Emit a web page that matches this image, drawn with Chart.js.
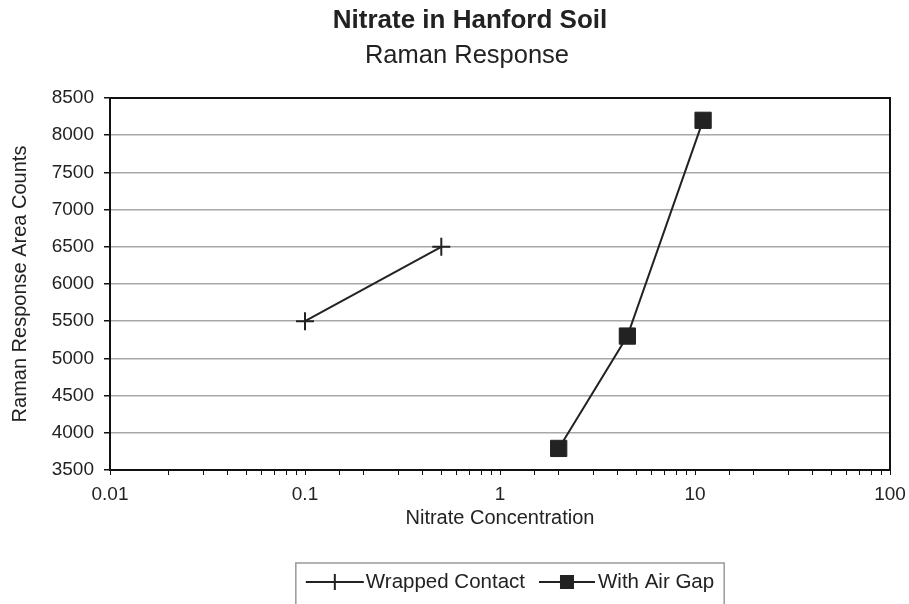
<!DOCTYPE html>
<html>
<head>
<meta charset="utf-8">
<script src="https://cdn.jsdelivr.net/npm/chart.js@4"></script>
<style>
  body { margin: 0; background: #fff; }
</style>
</head>
<body>
<canvas id="nitrateChart" width="909" height="604"></canvas>
<script>
// Datos
const wrappedConc = [0.1, 0.5];
const wrappedCounts = [5500, 6500];
const airGapConc = [2, 4.5, 11];
const airGapCounts = [3790, 5300, 8200];
const seriesNames = ['Wrapped Contact', 'With Air Gap'];
const xTickValues = [0.01, 0.1, 1, 10, 100];
const yMin = 3500, yMax = 8500, yStep = 500;

const FONT = '"Liberation Sans", Arial, sans-serif';
const INK = '#222';

function toPoints(xs, ys) {
    return xs.map((x, i) => ({ x: x, y: ys[i] }));
}

// Títulos, marco del área y leyenda
const decorPlugin = {
    id: 'decor',
    afterDraw(chart) {
        const ctx = chart.ctx;
        const area = chart.chartArea;
        ctx.save();

        // marco negro
        ctx.strokeStyle = '#111';
        ctx.lineWidth = 2;
        ctx.strokeRect(area.left, area.top, area.right - area.left, area.bottom - area.top);

        // títulos
        ctx.fillStyle = INK;
        ctx.textAlign = 'center';
        ctx.textBaseline = 'alphabetic';
        ctx.font = 'bold 26px ' + FONT;
        ctx.fillText('Nitrate in Hanford Soil', 470, 28);
        ctx.font = '25.5px ' + FONT;
        ctx.fillText('Raman Response', 467, 63);

        // leyenda
        ctx.font = '20.5px ' + FONT;
        ctx.textAlign = 'left';
        ctx.textBaseline = 'middle';
        const y = 582;
        const w1 = ctx.measureText(seriesNames[0]).width;
        const w2 = ctx.measureText(seriesNames[1]).width;
        const total = 10 + 58 + 2 + w1 + 14 + 56 + 3 + w2 + 10;
        let x = 510 - total / 2;
        ctx.strokeStyle = '#999';
        ctx.lineWidth = 1.5;
        ctx.strokeRect(x, 563, total, 60);

        ctx.strokeStyle = INK;
        ctx.lineWidth = 2;
        x += 10;
        ctx.beginPath();
        ctx.moveTo(x, y); ctx.lineTo(x + 58, y);
        ctx.moveTo(x + 29, y - 8); ctx.lineTo(x + 29, y + 8);
        ctx.stroke();
        x += 60;
        ctx.fillText(seriesNames[0], x, y);
        x += w1 + 14;
        ctx.beginPath();
        ctx.moveTo(x, y); ctx.lineTo(x + 56, y);
        ctx.stroke();
        ctx.fillRect(x + 28 - 7, y - 7, 14, 14);
        x += 59;
        ctx.fillText(seriesNames[1], x, y);

        ctx.restore();
    }
};

const ctx = document.getElementById('nitrateChart').getContext('2d');
const chart = new Chart(ctx, {
    type: 'line',
    data: {
        datasets: [
            {
                label: seriesNames[0],
                data: toPoints(wrappedConc, wrappedCounts),
                borderColor: INK,
                backgroundColor: INK,
                borderWidth: 2,
                pointStyle: 'cross',
                pointRadius: 9,
                pointBorderWidth: 2,
                tension: 0
            },
            {
                label: seriesNames[1],
                data: toPoints(airGapConc, airGapCounts),
                borderColor: INK,
                backgroundColor: INK,
                borderWidth: 2,
                pointStyle: 'rect',
                pointRadius: 11.5,
                pointBorderWidth: 1,
                tension: 0
            }
        ]
    },
    options: {
        responsive: false,
        animation: false,
        layout: { padding: { left: 0, top: 98, right: 19, bottom: 74 } },
        plugins: {
            legend: { display: false },
            title: { display: false },
            tooltip: { enabled: false }
        },
        scales: {
            x: {
                type: 'logarithmic',
                min: xTickValues[0],
                max: xTickValues[xTickValues.length - 1],
                afterFit: scale => {
                    scale.height = 60;
                    scale.paddingLeft = 0;
                    scale.paddingRight = 0;
                },
                border: { display: true, color: '#111', width: 2 },
                grid: { drawOnChartArea: false, drawTicks: true, tickLength: 5, color: '#111' },
                ticks: {
                    autoSkip: false,
                    maxRotation: 0,
                    padding: 8,
                    color: INK,
                    font: { family: FONT, size: 19 },
                    callback: function(value) {
                        const hit = xTickValues.find(t => Math.abs(t - value) / t < 1e-6);
                        return hit === undefined ? '' : String(hit);
                    }
                },
                title: {
                    display: true,
                    text: 'Nitrate Concentration',
                    color: INK,
                    font: { family: FONT, size: 20 },
                    padding: { top: 0, bottom: 0 }
                }
            },
            y: {
                min: yMin,
                max: yMax,
                afterFit: scale => { scale.width = 110; },
                border: { display: true, color: '#111', width: 2 },
                grid: { color: '#a8a8a8', lineWidth: 1.5, tickLength: 6, tickColor: '#111' },
                ticks: {
                    stepSize: yStep,
                    padding: 10,
                    color: INK,
                    font: { family: FONT, size: 19 },
                    callback: value => String(value)
                },
                title: {
                    display: true,
                    text: 'Raman Response Area Counts',
                    color: INK,
                    font: { family: FONT, size: 20 },
                    padding: { top: 8, bottom: 0 }
                }
            }
        }
    },
    plugins: [decorPlugin]
});
</script>
</body>
</html>
